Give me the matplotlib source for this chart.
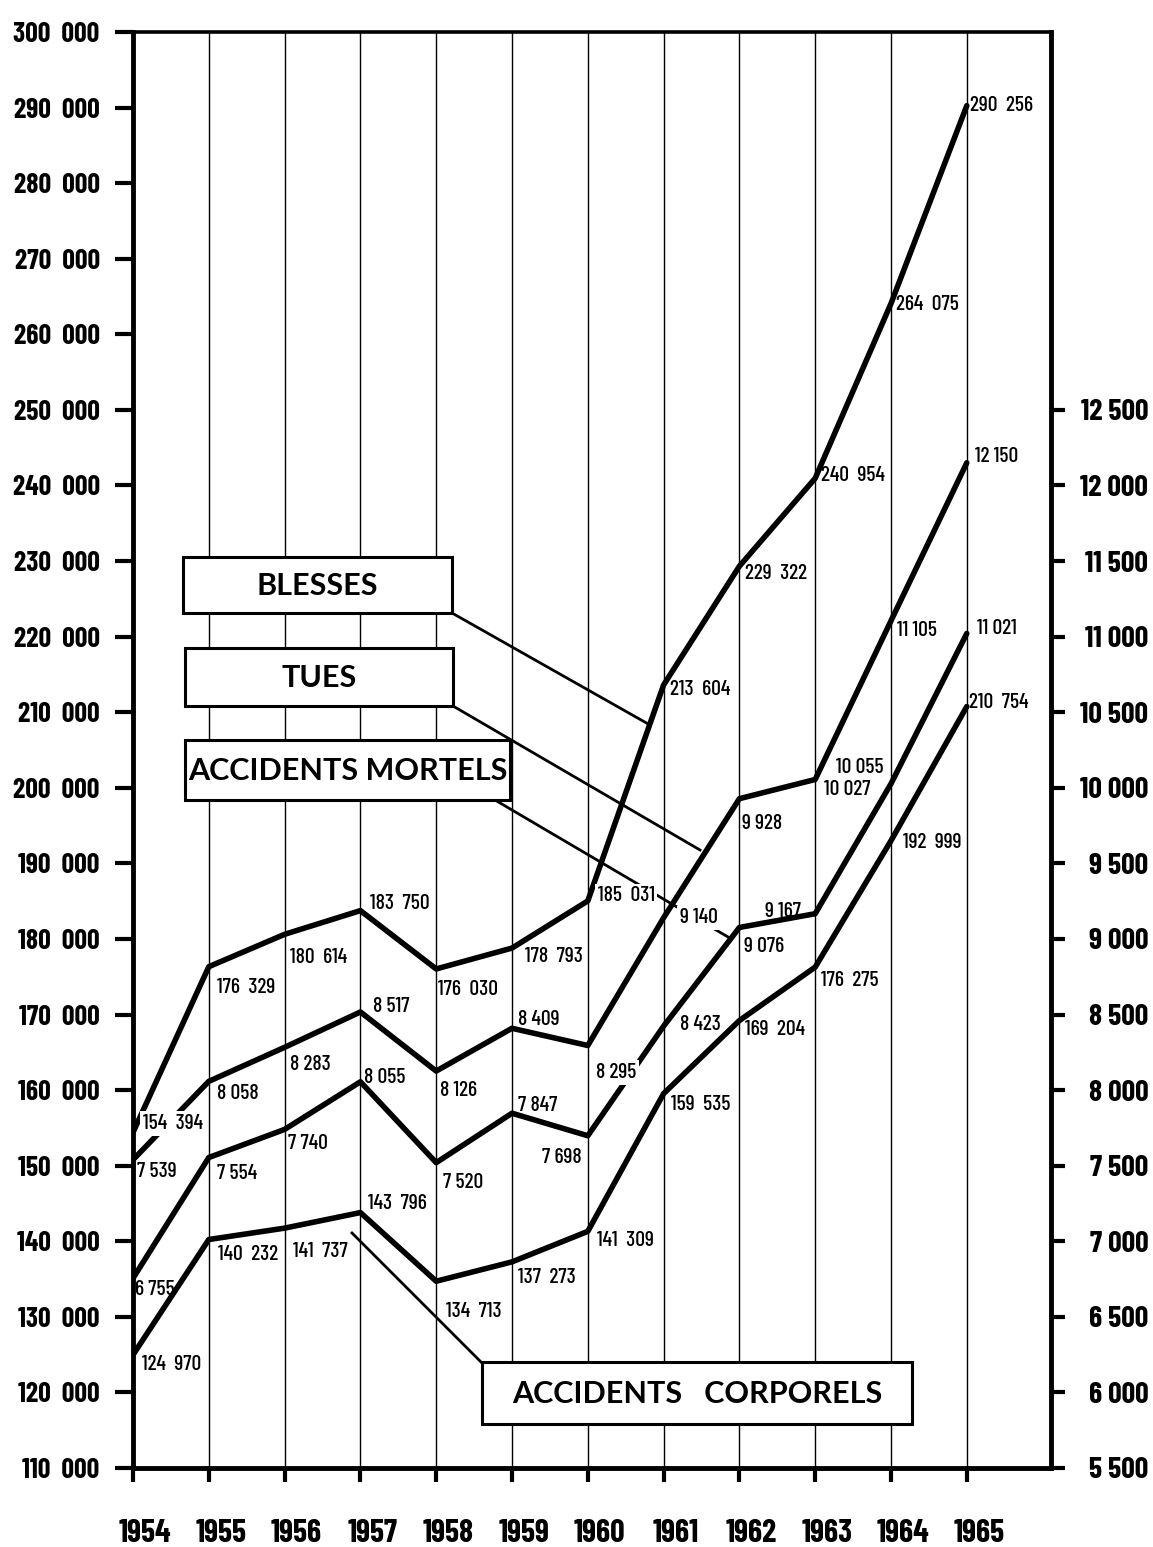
import matplotlib
matplotlib.use("Agg")
import matplotlib.pyplot as plt
from matplotlib import font_manager
from matplotlib.patches import Rectangle
from matplotlib.lines import Line2D
from matplotlib.transforms import ScaledTranslation

# ---------------- data ----------------
years = [1954, 1955, 1956, 1957, 1958, 1959, 1960, 1961, 1962, 1963, 1964, 1965]
blesses = [154394, 176329, 180614, 183750, 176030, 178793, 185031, 213604, 229322, 240954, 264075, 290256]
accidents_corporels = [124970, 140232, 141737, 143796, 134713, 137273, 141309, 159535, 169204, 176275, 192999, 210754]
tues = [7539, 8058, 8283, 8517, 8126, 8409, 8295, 9140, 9928, 10055, 11105, 12150]
accidents_mortels = [6755, 7554, 7740, 8055, 7520, 7847, 7698, 8423, 9076, 9167, 10027, 11021]

left_ticks = list(range(110000, 300001, 10000))
right_ticks = list(range(5500, 12501, 500))
box_titles = ["BLESSES", "TUES", "ACCIDENTS MORTELS", "ACCIDENTS   CORPORELS"]

# ---------------- fonts ----------------
fl = font_manager.fontManager.ttflist
names = {f.name for f in fl}
bold_names = {f.name for f in fl if isinstance(f.weight, int) and f.weight >= 700 and f.style == "normal"}


def pick(options, pool, default="DejaVu Sans"):
    for o in options:
        if o in pool:
            return o
    return default


NUM = pick(["Barlow Condensed", "Archivo Narrow", "Asap Condensed", "Liberation Sans Narrow"], names)
BOX = pick(["Lato", "Open Sans"], bold_names)


def fmt(v, sep=" "):
    return f"{v:,}".replace(",", sep)


def fmt_label(v):
    return fmt(v, "  " if v >= 100000 else " ")


# label offsets in pixels (dx right, dy down, alignment)
blesses_off = [(10, -9, 'left'), (8, 21, 'left'), (5, 23, 'left'), (10, -7, 'left'), (2, 21, 'left'),
               (13, 8, 'left'), (10, -5, 'left'), (6, 5, 'left'), (6, 7, 'left'), (6, -3, 'left'),
               (5, 1, 'left'), (3, 0, 'left')]
tues_off = [(4, 12, 'left'), (8, 12, 'left'), (5, 17, 'left'), (13, -5, 'left'), (4, 19, 'left'),
            (6, -9, 'left'), (8, 27, 'left'), (16, 0, 'left'), (3, 25, 'left'), (21, -12, 'left'),
            (6, 10, 'left'), (8, -6, 'left')]
mortels_off = [(2, 11, 'left'), (8, 16, 'left'), (3, 14, 'left'), (4, -4, 'left'), (7, 20, 'left'),
               (6, -8, 'left'), (-6, 22, 'right'), (16, -2, 'left'), (5, 19, 'left'), (-14, -2, 'right'),
               (-20, 6, 'right'), (10, -5, 'left')]
corporels_off = [(9, 10, 'left'), (9, 15, 'left'), (8, 23, 'left'), (8, -9, 'left'), (10, 30, 'left'),
                 (6, 16, 'left'), (9, 9, 'left'), (7, 11, 'left'), (6, 9, 'left'), (6, 13, 'left'),
                 (12, 2, 'left'), (2, -4, 'left')]

W, H, DPI = 1153, 1547, 100
L, R, T, B = 133, 1051, 32, 1468
XSTEP = 75.8

fig = plt.figure(figsize=(W / DPI, H / DPI), dpi=DPI)
fig.patch.set_facecolor("white")
ax = fig.add_axes([L / W, 1 - B / H, (R - L) / W, (B - T) / H])
ax2 = ax.twinx()
ax.set_autoscale_on(False)
ax2.set_autoscale_on(False)
ax.set_xlim(1954, 1954 + (R - L) / XSTEP)
ax.set_ylim(110000, 300000)
ax2.set_ylim(5500, 15000)


def P(x, y):
    return (x / W, 1 - y / H)


# vertical year lines
ax.vlines(years[1:], 110000, 300000, colors="black", lw=1.0, zorder=1)

# series
for vals, tr in [(blesses, ax.transData), (accidents_corporels, ax.transData),
                 (tues, ax2.transData), (accidents_mortels, ax2.transData)]:
    ax.plot(years, vals, color="black", lw=4.0, transform=tr, zorder=3,
            solid_joinstyle="round", solid_capstyle="round")

# data labels
white_bg = {("b", 0), ("b", 6), ("t", 6), ("t", 7)}
for key, vals, tr, offs in [("b", blesses, ax.transData, blesses_off),
                            ("c", accidents_corporels, ax.transData, corporels_off),
                            ("t", tues, ax2.transData, tues_off),
                            ("m", accidents_mortels, ax2.transData, mortels_off)]:
    for i, (x, v) in enumerate(zip(years, vals)):
        dx, dy, ha = offs[i]
        bb = dict(boxstyle="square,pad=0.12", fc="white", ec="none") if (key, i) in white_bg else None
        ax.annotate(fmt_label(v), xy=(x, v), xycoords=tr, xytext=(dx, -dy),
                    textcoords="offset pixels", ha=ha, va="center", fontsize=15.5,
                    family=NUM, fontweight="medium", zorder=5, bbox=bb, annotation_clip=False)

# leader lines (pixels)
leaders = [((452, 613), (650, 725)), ((453, 706), (700, 850)),
           ((495, 800), (728, 937)), ((352, 1233), (482, 1363))]
for (x0, y0), (x1, y1) in leaders:
    a, b = P(x0, y0), P(x1, y1)
    ax.add_line(Line2D([a[0], b[0]], [a[1], b[1]], transform=fig.transFigure,
                       color="black", lw=2.0, zorder=2))

# title boxes (pixels: x0, y0, x1, y1)
boxes = [(183, 557, 452, 613), (185, 648, 453, 706), (185, 740, 510, 800), (482, 1362, 912, 1424)]
for (x0, y0, x1, y1), title in zip(boxes, box_titles):
    fig.add_artist(Rectangle(P(x0, y1), (x1 - x0) / W, (y1 - y0) / H, transform=fig.transFigure,
                             facecolor="white", edgecolor="black", lw=2.2, zorder=6))
    cx, cy = (x0 + x1) / 2, (y0 + y1) / 2 + 1
    fig.text(cx / W, 1 - cy / H, title, ha="center", va="center", fontsize=22,
             fontweight="bold", family=BOX, zorder=7)

# axes / ticks
ax.set_xticks(years, [str(y) for y in years])
ax.tick_params(axis="x", direction="out", length=10, width=3, pad=27)
ax.set_yticks(left_ticks, [fmt(v, "  ") for v in left_ticks])
ax.tick_params(axis="y", direction="out", length=13, width=3, pad=11)
ax2.set_yticks(right_ticks, [fmt(v) for v in right_ticks])
ax2.tick_params(axis="y", direction="out", length=10, width=3, pad=60)

for lbl in ax.get_xticklabels():
    lbl.set_fontsize(23)
    lbl.set_fontweight("bold")
    lbl.set_family(NUM)
    lbl.set_transform(lbl.get_transform() + ScaledTranslation(0.12, 0, fig.dpi_scale_trans))
for lbl in ax.get_yticklabels():
    lbl.set_fontsize(20)
    lbl.set_fontweight("bold")
    lbl.set_family(NUM)
for lbl in ax2.get_yticklabels():
    lbl.set_fontsize(21.5)
    lbl.set_fontweight("bold")
    lbl.set_family(NUM)
    lbl.set_horizontalalignment("right")

for s in ["left", "bottom"]:
    ax.spines[s].set_linewidth(3.5)
ax.spines["top"].set_linewidth(2.6)
ax.spines["right"].set_visible(False)
for s in ["left", "bottom", "top"]:
    ax2.spines[s].set_visible(False)
ax2.spines["right"].set_linewidth(3.5)

fig.savefig("out.png", dpi=DPI, facecolor="white")
